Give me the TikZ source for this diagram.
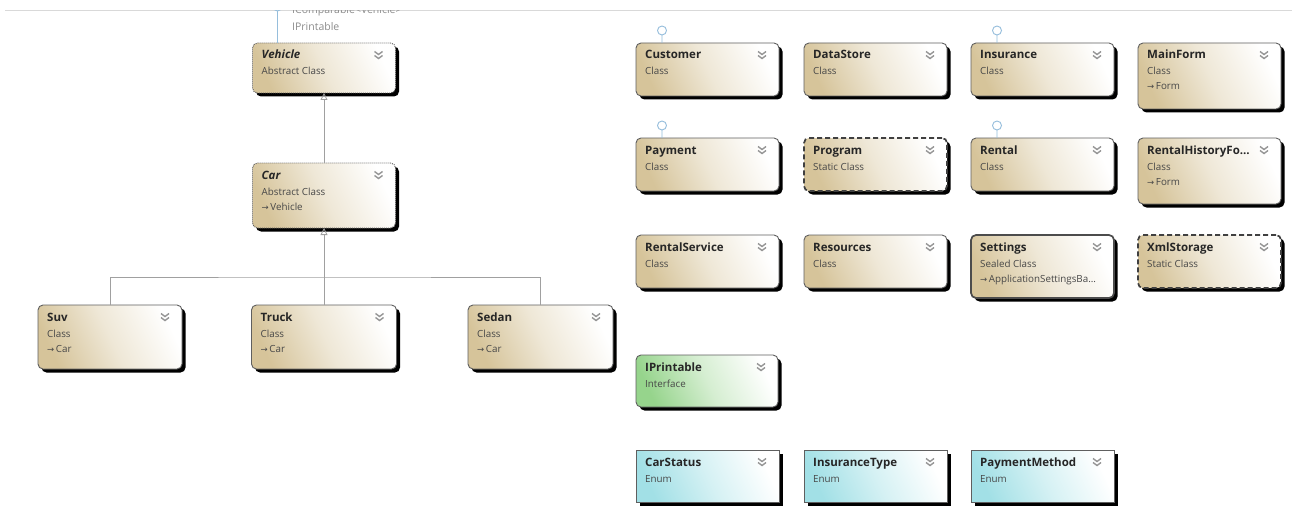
\documentclass[tikz,border=0pt]{standalone}
\usepackage{fontspec}
\setmainfont{Open Sans}
\newfontfamily\arrowfont{DejaVu Sans}
\usetikzlibrary{shadows,arrows.meta}
\definecolor{tanc}{RGB}{214,196,154}
\definecolor{greenc}{RGB}{150,212,140}
\definecolor{cyanc}{RGB}{162,224,230}
\definecolor{bordc}{RGB}{95,95,95}
\definecolor{connc}{RGB}{160,160,160}
\definecolor{lollic}{RGB}{150,190,220}
\definecolor{chevc}{RGB}{150,150,150}
\tikzset{
  base/.style={draw=bordc, line width=0.9pt, rounded corners=5pt, anchor=north west,
    inner sep=0pt, outer sep=0pt,
    drop shadow={shadow xshift=3.5pt, shadow yshift=-3.5pt, fill=black, opacity=1}},
  classbox/.style={base, left color=tanc, right color=white, middle color=tanc!40!white, shading angle=115},
  abstractbox/.style={classbox, draw=bordc, dash pattern=on 1pt off 1pt},
  staticbox/.style={classbox, draw=black!75, line width=1.7pt, dash pattern=on 5pt off 3pt},
  sealedbox/.style={classbox, draw=black!70, line width=1.7pt},
  ifacebox/.style={base, left color=greenc, right color=white, middle color=greenc!40!white, shading angle=115},
  enumbox/.style={base, rounded corners=0pt, left color=cyanc, right color=white, middle color=cyanc!45!white, shading angle=115},
  ttl/.style={anchor=base west, inner sep=0pt, font=\fontsize{11.5}{13}\selectfont\bfseries, text=black!85},
  sub/.style={anchor=base west, inner sep=0pt, font=\fontsize{9.8}{11}\selectfont, text=black!72},
  chevst/.style={draw=chevc, line width=1.4pt},
  conn/.style={draw=connc, line width=0.8pt},
  gen/.style={conn, -{Triangle[open, length=7pt, width=7pt]}},
  lolli/.style={draw=lollic, line width=0.9pt},
}
\newcommand\chev[1]{\draw[chevst] ([shift={(-21pt,-8.5pt)}]#1.north east) -- ++(4,3) -- ++(4,-3)
  ([shift={(-21pt,-12.5pt)}]#1.north east) -- ++(4,3) -- ++(4,-3);}
\newcommand\umlbox[9]{%
  \node[#2, minimum width=#5pt, minimum height=#6pt] (#1) at (#3,#4) {};
  \node[ttl] at ([shift={(9pt,-16pt)}]#1.north west) {#7};
  \node[sub] at ([shift={(9pt,-32pt)}]#1.north west) {#8};
  \node[sub] at ([shift={(9pt,-47pt)}]#1.north west) {#9};
  \chev{#1}}
\newcommand\inh{{\arrowfont\fontsize{8.5}{9}\selectfont →}\,}
\begin{document}
\begin{tikzpicture}[x=1pt,y=-1pt]
\useasboundingbox[fill=white] (0,0) rectangle (1292,508);
\draw[black!15, line width=0.8pt] (5,10) -- (1292,10);

% left hierarchy
\umlbox{vehicle}{abstractbox}{252.5}{43}{143}{50}{\itshape Vehicle}{Abstract Class}{}
\umlbox{car}{abstractbox}{252.5}{163}{143}{65}{\itshape Car}{Abstract Class}{\inh Vehicle}
\umlbox{suv}{classbox}{38}{305}{144}{64}{Suv}{Class}{\inh Car}
\umlbox{truck}{classbox}{251.5}{305}{145}{64}{Truck}{Class}{\inh Car}
\umlbox{sedan}{classbox}{468}{305}{145}{64}{Sedan}{Class}{\inh Car}

\begin{scope}
\clip (0,10.6) rectangle (1292,508);
\draw[lolli] ([xshift=25pt]vehicle.north west) -- ++(0,-32) ++(0,-4.5) circle (4.5pt);
\node[anchor=base west, inner sep=0pt, font=\fontsize{10.5}{12}\selectfont, text=black!45] (icomp) at (292,14) {IComparable<Vehicle>};
\end{scope}
\node[anchor=base west, inner sep=0pt, font=\fontsize{10.5}{12}\selectfont, text=black!45] (iprint) at (292,30.5) {IPrintable};

\coordinate (j) at (324,277);
\draw[gen] (car.north) -- (vehicle.south);
\draw[gen] (truck.north) -- (car.south);
\draw[conn] (suv.north) |- (j) -| (sedan.north);

% right grid
\umlbox{customer}{classbox}{636}{43}{143}{53}{Customer}{Class}{}
\umlbox{datastore}{classbox}{804}{43}{143}{53}{DataStore}{Class}{}
\umlbox{insurance}{classbox}{971}{43}{143}{53}{Insurance}{Class}{}
\umlbox{mainform}{classbox}{1138}{43}{143}{66}{MainForm}{Class}{\inh Form}
\umlbox{payment}{classbox}{636}{138}{143}{53}{Payment}{Class}{}
\umlbox{program}{staticbox}{804}{138}{143}{53}{Program}{Static Class}{}
\umlbox{rental}{classbox}{971}{138}{143}{53}{Rental}{Class}{}
\umlbox{rhist}{classbox}{1138}{138}{143}{66}{RentalHistoryFo...}{Class}{\inh Form}
\umlbox{rservice}{classbox}{636}{235}{143}{53}{RentalService}{Class}{}
\umlbox{resources}{classbox}{804}{235}{143}{53}{Resources}{Class}{}
\umlbox{settings}{sealedbox}{971}{235}{143}{63}{Settings}{Sealed Class}{\inh ApplicationSettingsBa...}
\umlbox{xmlstorage}{staticbox}{1138}{235}{143}{53}{XmlStorage}{Static Class}{}
\umlbox{iprintable}{ifacebox}{636}{355}{142}{52}{IPrintable}{Interface}{}
\umlbox{carstatus}{enumbox}{636}{450}{143}{52}{CarStatus}{Enum}{}
\umlbox{instype}{enumbox}{804}{450}{143}{52}{InsuranceType}{Enum}{}
\umlbox{paymethod}{enumbox}{971}{450}{143}{52}{PaymentMethod}{Enum}{}

\foreach \b in {customer,insurance,payment,rental}
  \draw[lolli] ([xshift=26pt]\b.north west) -- ++(0,-8) ++(0,-4.5) circle (4.5pt);
\end{tikzpicture}
\end{document}
